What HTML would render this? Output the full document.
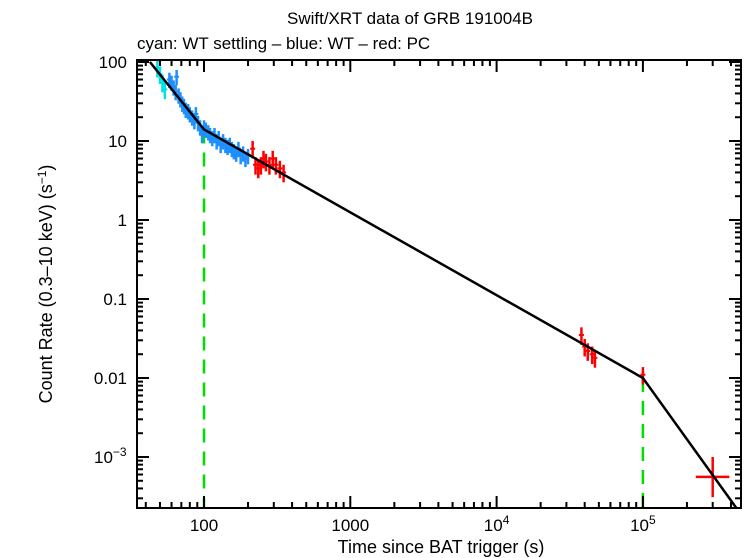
<!DOCTYPE html>
<html><head><meta charset="utf-8"><style>
body{margin:0;background:#fff}
svg{display:block;font-family:"Liberation Sans",sans-serif}
</style></head><body>
<svg id="c" width="746" height="558">
<text x="410" y="24" font-size="17" text-anchor="middle">Swift/XRT data of GRB 191004B</text>
<text x="137" y="49" font-size="17">cyan: WT settling – blue: WT – red: PC</text>
<text x="441" y="553" font-size="18" text-anchor="middle">Time since BAT trigger (s)</text>
<text transform="translate(52,284) rotate(-90)" font-size="18" text-anchor="middle">Count Rate (0.3–10 keV) (s<tspan dy="-6" font-size="12">−1</tspan><tspan dy="6">)</tspan></text>
<g id="g"></g>
</svg>
<script>
const cyanT=[48,50,52,54];
const cyanR=[85,70,55,45];
const blueT=[58,60,62,64,65,67,69,71,73,75,78,80,83,86,88,91,94,97,100,103,107,110,114,118,122,126,130,135,140,145,150,155,160,166,172,178,185,192,200];
const blueR=[60,55,48,42,65,38,34,30,28,25,24,22,20,18,22,17,15,12,15,14,13,12,11,12,10,11,9,10,9,8.5,9,8,7.5,7,8,6.5,7,6,6.5];
const redT=[215,225,235,245,255,265,280,295,310,330,350,38000,40000,42000,45000,47000,100000];
const redR=[8,5,4.5,5,6,5.5,5,6,5,4.5,4,0.035,0.025,0.022,0.02,0.018,0.011];
const lastT=[300000], lastR=[5.6e-4], lastTlo=[230000], lastThi=[390000], lastRlo=[3.1e-4], lastRhi=[1.0e-3];
const modelT=[42.7,100,100000,440000];
const modelR=[100,14,0.01,0.00022];
const breaks=[100,100000];
const xTicks=[[100,"100"],[1000,"1000"],[1e4,"10","4"],[1e5,"10","5"]];
const yTicks=[[100,"100"],[10,"10"],[1,"1"],[0.1,"0.1"],[0.01,"0.01"],[1e-3,"10","−3"]];
const L=137,R=741,T=60,B=508;
const X=t=>204+(Math.log10(t)-2)*146.3;
const Y=r=>62+(2-Math.log10(r))*79;
const g=document.getElementById('g');const NS='http://www.w3.org/2000/svg';
function el(tag,a,p){const e=document.createElementNS(NS,tag);for(const k in a)e.setAttribute(k,a[k]);(p||g).appendChild(e);return e;}
const clip=el('clipPath',{id:'cl'});el('rect',{x:L,y:T,width:R-L,height:B-T},clip);
const pg=el('g',{'clip-path':'url(#cl)'});


breaks.forEach(b=>{const l=el('line',{x1:X(b),x2:X(b),y1:Y(modelR[breaks.indexOf(b)+1]),y2:B,stroke:'#00dd00','stroke-width':2.5,'stroke-dasharray':'14,9'},pg);

});
function pts(ts,rs,col,name,f){ts.forEach((t,i)=>{const x=X(t),y=Y(rs[i]);const e=f*rs[i];
const a=el('line',{x1:x,x2:x,y1:Y(rs[i]+e),y2:Y(Math.max(rs[i]-e,1e-9)),stroke:col,'stroke-width':2.5},pg);


const b=el('line',{x1:x-2.5,x2:x+2.5,y1:y,y2:y,stroke:col,'stroke-width':2},pg);

});}
pts(cyanT,cyanR,'#00e0e8','cyan-point',0.25);
pts(blueT,blueR,'#1e8fff','blue-point',0.22);
pts(redT,redR,'#ff0000','red-point',0.25);
lastT.forEach((t,i)=>{
const a=el('line',{x1:X(lastTlo[i]),x2:X(lastThi[i]),y1:Y(lastR[i]),y2:Y(lastR[i]),stroke:'#ff0000','stroke-width':2.5},pg);


const b=el('line',{x1:X(t),x2:X(t),y1:Y(lastRhi[i]),y2:Y(lastRlo[i]),stroke:'#ff0000','stroke-width':2.5},pg);

});
const m=el('polyline',{points:modelT.map((t,i)=>X(t)+','+Y(modelR[i])).join(' '),fill:'none',stroke:'#000','stroke-width':2.5},pg);


const fr=el('rect',{x:L,y:T,width:R-L,height:B-T,fill:'none',stroke:'#000','stroke-width':2});


for(let d=1;d<=5;d++)for(let k=1;k<10;k++){const x=X(k*Math.pow(10,d));if(x<L||x>R)continue;const len=k==1?12:6;
el('line',{x1:x,x2:x,y1:B,y2:B-len,stroke:'#000','stroke-width':2});el('line',{x1:x,x2:x,y1:T,y2:T+len,stroke:'#000','stroke-width':2});}
for(let d=-4;d<=2;d++)for(let k=1;k<10;k++){const y=Y(k*Math.pow(10,d));if(y<T||y>B)continue;const len=k==1?12:6;
el('line',{x1:L,x2:L+len,y1:y,y2:y,stroke:'#000','stroke-width':2});el('line',{x1:R,x2:R-len,y1:y,y2:y,stroke:'#000','stroke-width':2});}
xTicks.forEach(tk=>{const t=el('text',{x:X(tk[0]),y:531,'font-size':17,'text-anchor':'middle'});t.textContent=tk[1];
if(tk[2]){const s=el('tspan',{dy:-7,'font-size':12},t);s.textContent=tk[2];}

});
yTicks.forEach(tk=>{const t=el('text',{x:127,y:Y(tk[0])+6,'font-size':17,'text-anchor':'end'});t.textContent=tk[1];
if(tk[2]){const s=el('tspan',{dy:-7,'font-size':12},t);s.textContent=tk[2];t.setAttribute('x',94);t.setAttribute('text-anchor','start');}

});
</script>
</body></html>
